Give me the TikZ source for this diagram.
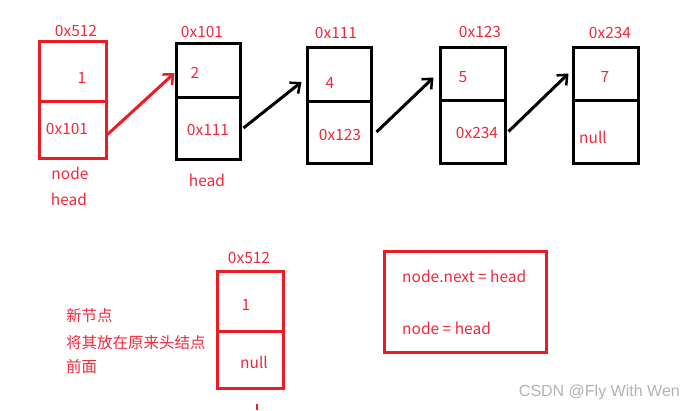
\documentclass[tikz,border=0pt]{standalone}
\usepackage{fontspec}
\setmainfont{Noto Sans CJK SC}
\newfontfamily\markfont{Liberation Sans}
\usetikzlibrary{arrows.meta}

\definecolor{paintred}{RGB}{237,28,36}
\definecolor{txtred}{RGB}{240,40,60}

\begin{document}
\begin{tikzpicture}[x=1pt,y=-1pt,
  cell/.style={draw, line width=3pt, rectangle, inner sep=0pt, minimum width=#1},
  txt/.style={text=txtred, font=\fontsize{15.5}{18}\selectfont, inner sep=0pt},
  link/.style={line width=3pt, -{Straight Barb[length=8pt,width=14pt,line width=2.5pt]}}]
  \useasboundingbox (0,0) rectangle (695,410);

  % old list
  \node[cell=67pt, minimum height=60pt, paintred] (v512) at (72.5,71) {};
  \node[cell=67pt, minimum height=57pt, paintred] (p512) at (72.5,129.5) {};
  \node[cell=64pt, minimum height=54pt] (v101) at (208,70) {};
  \node[cell=64pt, minimum height=62pt] (p101) at (208,128) {};
  \node[cell=64pt, minimum height=54pt] (v111) at (339,74) {};
  \node[cell=64pt, minimum height=62pt] (p111) at (339,132) {};
  \node[cell=65pt, minimum height=53pt] (v123) at (472.5,73.5) {};
  \node[cell=65pt, minimum height=63pt] (p123) at (472.5,131.5) {};
  \node[cell=65pt, minimum height=53pt] (v234) at (605.5,73.5) {};
  \node[cell=65pt, minimum height=63pt] (p234) at (605.5,131.5) {};

  \node[txt] at (76,31) {0x512};
  \node[txt] at (202,32) {0x101};
  \node[txt] at (336,33) {0x111};
  \node[txt] at (480,32) {0x123};
  \node[txt] at (610,33) {0x234};

  \node[txt] at (82,78) {1};
  \node[txt] at (67,129) {0x101};
  \node[txt] at (195,73) {2};
  \node[txt] at (208,130) {0x111};
  \node[txt] at (330,83) {4};
  \node[txt] at (340,135) {0x123};
  \node[txt] at (463,77) {5};
  \node[txt] at (477,133) {0x234};
  \node[txt] at (605,77) {7};
  \node[txt] at (593,137) {null};

  \node[txt] (nodelbl) at (70,173) {node};
  \node[txt] (headlbl) at (69,199) {head};
  \node[txt] (headold) at (207,180) {head};

  \draw[link, paintred] ([yshift=-5pt]p512.east) -- ([yshift=-3pt]v101.west);
  \draw[link] ([xshift=2pt]p101.east) -- ([xshift=-4pt,yshift=-8pt]v111.west);
  \draw[link] ([xshift=4pt]p111.east) -- ([xshift=-5pt,yshift=-4pt]v123.west);
  \draw[link] ([xshift=2pt]p123.east) -- ([xshift=-3pt]v234.west);

  % new node
  \node[cell=66pt, minimum height=60pt, paintred] (vnew) at (250,301) {};
  \node[cell=66pt, minimum height=57pt, paintred] (pnew) at (250,359.5) {};
  \node[txt] at (249,258) {0x512};
  \node[txt] at (246,305) {1};
  \node[txt] at (254,362) {null};
  \draw[paintred, line width=2pt] (256.5,404) -- (256.5,410);

  \node[txt, anchor=west] at (66,316) {新节点};
  \node[txt, anchor=west] at (66,343) {将其放在原来头结点};
  \node[txt, anchor=west] at (66,367) {前面};

  \draw[paintred, line width=3pt] (384,251) rectangle (546,352);
  \node[txt, anchor=west] at (402,276) {node.next\ =\ head};
  \node[txt, anchor=west] at (402,328) {node\ =\ head};

  \node[anchor=east, inner sep=0pt, text=gray!60, font=\markfont\fontsize{16}{18}\selectfont] at (680,392) {CSDN @Fly With Wen};
\end{tikzpicture}
\end{document}
